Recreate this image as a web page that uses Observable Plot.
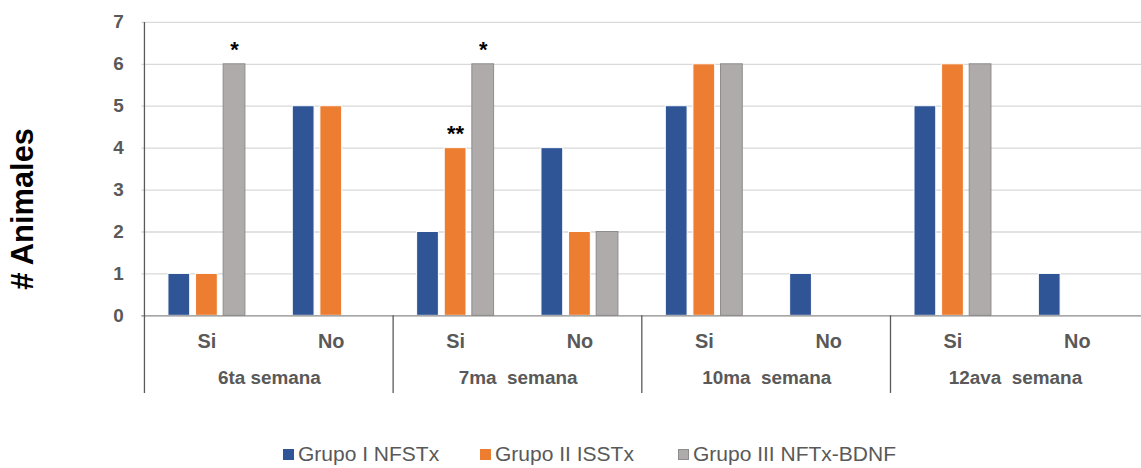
<!DOCTYPE html>
<html><head><meta charset="utf-8">
<script src="https://cdn.jsdelivr.net/npm/d3@7"></script>
<script src="https://cdn.jsdelivr.net/npm/@observablehq/plot@0.6"></script>
<style>
html,body{margin:0;padding:0;background:#fff;overflow:hidden;}
body{position:relative;width:1141px;height:468px;font-family:"Liberation Sans",Arial,sans-serif;}
#chart{width:1141px;overflow:hidden;}
#chart svg{display:block;}
#legend{position:absolute;left:0;top:440px;width:1141px;height:28px;}
.item{position:absolute;top:0;height:28px;display:flex;align-items:center;font-size:21px;color:#595959;white-space:nowrap;}
.sw{width:11px;height:11px;margin-right:4px;box-sizing:border-box;}
</style></head>
<body>
<div id="chart"></div>
<div id="legend"></div>
<script>
const weeks = ["6ta semana", "7ma  semana", "10ma  semana", "12ava  semana"];
const answers = ["Si", "No"];
const groups = ["Grupo I NFSTx", "Grupo II ISSTx", "Grupo III NFTx-BDNF"];
// values per category in order: 6ta Si, 6ta No, 7ma Si, 7ma No, 10ma Si, 10ma No, 12ava Si, 12ava No
const grupoI   = [1, 5, 2, 4, 5, 1, 5, 1];
const grupoII  = [1, 5, 4, 2, 6, 0, 6, 0];
const grupoIII = [6, 0, 6, 2, 6, 0, 6, 0];
const series = [grupoI, grupoII, grupoIII];
// significance marks: category index, group index, label
const starCategory = [0, 2, 2];
const starGroup = [2, 1, 2];
const starLabel = ["*", "**", "*"];
const yTicks = [0, 1, 2, 3, 4, 5, 6, 7];

const colors = ["#2F5597", "#ED7D31", "#AFABAB"];
const strokes = ["#ffffff", "#ffffff", "#8E8C8C"];
const key = (w, a) => w + "|" + a;
const keys = weeks.flatMap(w => answers.map(a => key(w, a)));

const rows = [];
keys.forEach((k, i) => series.forEach((s, gi) => rows.push({key: k, gi, group: groups[gi], value: s[i]})));
const stars = starCategory.map((c, j) => ({key: keys[c], gi: starGroup[j], value: series[starGroup[j]][c], label: starLabel[j]}));

// the reference's plot area runs slightly past the right edge of the picture
const W = 1147, mL = 142, mR = 0;
const bw = (W - mL - mR) / keys.length;
const step = 27.75, barW = 22.5;
const inset = (bw - barW) / 2;
const offs = [-step, 0, step];

const barMarks = groups.map((g, gi) => Plot.barY(rows.filter(d => d.gi === gi && d.value > 0), {
  x: "key", y: "value", fill: colors[gi], stroke: strokes[gi], strokeWidth: 1,
  insetLeft: inset, insetRight: inset, dx: offs[gi]
}));
const starMarks = groups.map((g, gi) => Plot.text(stars.filter(d => d.gi === gi), {
  x: "key", y: "value", text: "label", dx: offs[gi], dy: -14, fontSize: 22, fill: "#000", fontWeight: "bold"
}));

const chart = Plot.plot({
  width: W, height: 440,
  marginLeft: mL, marginRight: mR, marginTop: 22, marginBottom: 123,
  style: {fontFamily: "'Liberation Sans', Arial, sans-serif", background: "#fff"},
  x: {domain: keys, padding: 0, axis: null},
  y: {domain: [0, 7], axis: null},
  marks: [
    Plot.gridY(yTicks.slice(1), {stroke: "#d9d9d9", strokeOpacity: 1, strokeWidth: 1.3}),
    ...barMarks,
    ...starMarks,
    Plot.ruleY([0], {stroke: "#8a8a8a", strokeWidth: 1.3}),
    Plot.axisY(yTicks, {tickSize: 0, tickPadding: 18, fontSize: 19, fontWeight: "bold", fill: "#595959", label: null}),
    Plot.axisX({tickSize: 0, tickPadding: 18, fontSize: 20, fontWeight: "bold", fill: "#595959", label: null, tickFormat: d => d.split("|")[1]}),
    Plot.text(weeks, {x: d => key(d, "Si"), dx: bw / 2, frameAnchor: "bottom", dy: 69, fontSize: 19, fontWeight: "bold", fill: "#595959", text: d => d}),
    Plot.ruleX([weeks[0]], {x: d => key(d, "Si"), dx: -bw / 2, stroke: "#595959", strokeWidth: 1.3, insetBottom: -78}),
    Plot.ruleX(weeks.slice(1), {x: d => key(d, "Si"), dx: -bw / 2, stroke: "#595959", strokeWidth: 1.3, insetTop: 295, insetBottom: -78}),
    Plot.text(["# Animales"], {frameAnchor: "left", textAnchor: "middle", rotate: -90, dx: -119, dy: 40, fontSize: 31, fontWeight: "bold", fill: "#000", text: d => d})
  ]
});
chart.querySelectorAll("text").forEach(t => t.style.whiteSpace = "pre");
document.getElementById("chart").appendChild(chart);

const legendX = [283, 480, 678];
const legend = document.getElementById("legend");
groups.forEach((g, i) => {
  const it = document.createElement("div");
  it.className = "item";
  it.style.left = legendX[i] + "px";
  const sw = document.createElement("span");
  sw.className = "sw";
  sw.style.background = colors[i];
  if (i === 2) sw.style.border = "1px solid #8E8C8C";
  it.appendChild(sw);
  const tx = document.createElement("span");
  tx.textContent = g;
  it.appendChild(tx);
  legend.appendChild(it);
});
</script>
</body></html>
